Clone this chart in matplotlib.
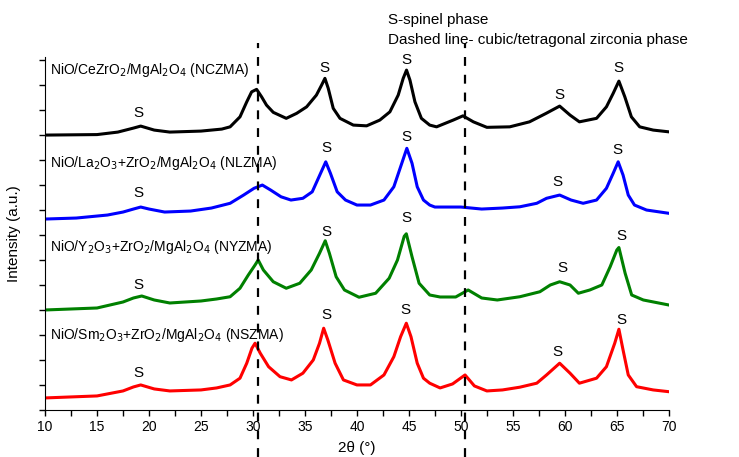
import matplotlib.pyplot as plt
import matplotlib
from matplotlib.ticker import MultipleLocator

matplotlib.rcParams['font.family'] = 'Liberation Sans'

# XRD patterns, stacked (2theta in degrees, intensity in a.u. with offset)
x_ncz = [10, 15, 17, 18.5, 19.2, 20.5, 22, 25, 27, 27.8, 28.75, 29.4, 29.87, 30.35, 30.83, 31.3,
         31.95, 33.2, 34.2, 35.16, 36.1, 36.6, 36.92, 37.24, 37.72, 38.37, 39.65, 40.93, 42.2,
         43.17, 43.97, 44.45, 44.77, 45.1, 45.58, 46.2, 47.0, 47.66, 49.26, 50.2, 51.2, 52.5,
         54.7, 56.6, 58.2, 59.5, 60.5, 61.4, 63.05, 64.0, 64.65, 65.2, 65.77, 66.4, 67.2, 68.5, 70]
y_ncz = [11.0, 11.02, 11.12, 11.28, 11.36, 11.2, 11.12, 11.16, 11.24, 11.33, 11.73, 12.33, 12.73,
         12.83, 12.53, 12.2, 11.91, 11.67, 11.87, 12.13, 12.6, 13.0, 13.27, 12.87, 12.07, 11.67,
         11.4, 11.37, 11.6, 11.93, 12.6, 13.27, 13.6, 13.2, 12.33, 11.67, 11.4, 11.33, 11.6,
         11.77, 11.53, 11.31, 11.33, 11.53, 11.87, 12.16, 11.8, 11.53, 11.67, 12.13, 12.67,
         13.16, 12.53, 11.73, 11.33, 11.2, 11.13]

x_nlz = [10, 13, 16, 17.5, 18.5, 19.2, 20, 21.5, 24, 26, 27.8, 29.1, 30.1, 30.9, 31.7, 32.7,
         33.65, 34.8, 35.7, 36.35, 37.0, 37.45, 38.1, 38.9, 40.0, 41.3, 42.6, 43.55, 44.2, 44.8,
         45.3, 45.8, 46.4, 47.0, 47.5, 50, 52, 54, 55.67, 57.3, 58.24, 59.5, 60.6, 61.76, 63.05,
         64.0, 64.65, 65.13, 65.6, 66.1, 66.7, 67.86, 70]
y_nlz = [7.64, 7.68, 7.8, 7.92, 8.04, 8.12, 8.04, 7.92, 7.96, 8.08, 8.27, 8.6, 8.87, 9.0, 8.8,
         8.53, 8.4, 8.47, 8.73, 9.33, 9.93, 9.47, 8.73, 8.4, 8.2, 8.2, 8.4, 8.93, 9.73, 10.47,
         9.87, 8.93, 8.4, 8.2, 8.12, 8.12, 8.04, 8.08, 8.13, 8.27, 8.47, 8.6, 8.4, 8.27, 8.4,
         8.87, 9.47, 9.93, 9.4, 8.6, 8.2, 8.0, 7.87]

x_nyz = [10, 15, 17.5, 18.5, 19.3, 20.5, 22, 25, 26.5, 27.8, 28.75, 29.55, 30.2, 30.5, 31.0,
         31.95, 33.2, 34.5, 35.6, 36.4, 36.95, 37.35, 38.0, 38.8, 40.2, 41.8, 43.1, 43.9, 44.55,
         44.75, 45.3, 45.98, 47.0, 48, 49.5, 50.7, 52, 53.5, 55.67, 57.6, 58.6, 59.5, 60.5, 61.3,
         62.4, 63.56, 64.36, 65.0, 65.2, 65.8, 66.43, 67.55, 70]
y_nyz = [4.0, 4.08, 4.32, 4.48, 4.56, 4.4, 4.28, 4.36, 4.44, 4.53, 4.87, 5.4, 5.8, 6.0, 5.6,
         5.13, 4.87, 5.07, 5.6, 6.27, 6.77, 6.27, 5.33, 4.8, 4.51, 4.67, 5.27, 6.0, 6.95, 7.05,
         6.13, 5.07, 4.6, 4.52, 4.52, 4.8, 4.48, 4.4, 4.53, 4.73, 5.0, 5.13, 5.0, 4.67, 4.8,
         5.0, 5.73, 6.4, 6.5, 5.47, 4.6, 4.4, 4.2]

x_nsz = [10, 15, 17.5, 18.5, 19.2, 20.5, 22, 25, 26.5, 27.8, 28.75, 29.4, 29.9, 30.2, 30.7,
         31.5, 32.6, 33.7, 34.8, 35.8, 36.4, 36.8, 37.2, 37.9, 38.7, 40.0, 41.3, 42.6, 43.55,
         44.2, 44.75, 45.2, 45.8, 46.4, 47.0, 48, 49.2, 50.4, 51.3, 52.5, 54, 55.67, 57.3, 58.24,
         59.5, 60.5, 61.4, 63.05, 64.0, 64.8, 65.2, 65.6, 66.1, 66.9, 68.5, 70]
y_nsz = [0.48, 0.56, 0.76, 0.92, 1.0, 0.84, 0.76, 0.8, 0.88, 1.0, 1.27, 1.87, 2.47, 2.67, 2.27,
         1.73, 1.33, 1.2, 1.47, 2.0, 2.67, 3.27, 2.8, 1.87, 1.2, 1.0, 1.0, 1.4, 2.13, 2.93, 3.47,
         2.93, 1.87, 1.27, 1.07, 0.88, 1.04, 1.4, 0.96, 0.76, 0.8, 0.91, 1.07, 1.4, 1.87, 1.47,
         1.07, 1.27, 1.73, 2.67, 3.23, 2.4, 1.4, 0.93, 0.8, 0.73]

names = ['NiO/CeZrO$_2$/MgAl$_2$O$_4$ (NCZMA)',
         'NiO/La$_2$O$_3$+ZrO$_2$/MgAl$_2$O$_4$ (NLZMA)',
         'NiO/Y$_2$O$_3$+ZrO$_2$/MgAl$_2$O$_4$ (NYZMA)',
         'NiO/Sm$_2$O$_3$+ZrO$_2$/MgAl$_2$O$_4$ (NSZMA)']
name_y = [13.6, 9.88, 6.52, 3.0]

# spinel peak marks
s_x = [[19, 36.9, 44.8, 59.5, 65.2],
       [19, 37.1, 44.8, 59.3, 65.1],
       [19, 37.1, 44.8, 59.8, 65.4],
       [19, 37.1, 44.7, 59.3, 65.4]]
s_y = [[11.88, 13.68, 14.0, 12.6, 13.68],
       [8.68, 10.48, 10.92, 9.12, 10.4],
       [5.0, 7.12, 7.68, 5.68, 6.96],
       [1.48, 3.8, 4.0, 2.32, 3.6]]

zr_lines = [30.5, 50.4]

fig = plt.figure(figsize=(7.39, 4.57), dpi=100)
ax = fig.add_axes([0.061, 0.103, 0.844, 0.772])

xs = [x_ncz, x_nlz, x_nyz, x_nsz]
ys = [y_ncz, y_nlz, y_nyz, y_nsz]
colors = ['black', '#0000ff', '#008000', '#ff0000']
for x, y, c in zip(xs, ys, colors):
    ax.plot(x, y, color=c, lw=2.2, solid_joinstyle='round')

for n, yy in zip(names, name_y):
    ax.text(10.5, yy, n, fontsize=10, va='center', ha='left')

for sx, sy in zip(s_x, s_y):
    for a, b in zip(sx, sy):
        ax.text(a, b, 'S', fontsize=11, ha='center', va='center')

for v in zr_lines:
    ax.plot([v, v], [-1.9, 14.7], color='black', ls=(0, (4, 4)), lw=1.6, clip_on=False)

ax.text(43.0, 15.6, 'S-spinel phase', fontsize=11, va='center')
ax.text(43.0, 14.8, 'Dashed line- cubic/tetragonal zirconia phase', fontsize=11, va='center')

ax.set_xlim(10, 70)
ax.set_ylim(0, 14.12)
ax.xaxis.set_major_locator(MultipleLocator(5))
ax.xaxis.set_minor_locator(MultipleLocator(2.5))
ax.yaxis.set_major_locator(MultipleLocator(1))
ax.set_yticklabels([])
ax.tick_params(which='both', direction='out', length=4, width=1)
ax.tick_params(axis='x', labelsize=10)
ax.spines['top'].set_visible(False)
ax.spines['right'].set_visible(False)
ax.set_xlabel('2θ (°)', fontsize=11, labelpad=5)
ax.set_ylabel('Intensity (a.u.)', fontsize=11, labelpad=10)

fig.savefig('out.png', dpi=100)
